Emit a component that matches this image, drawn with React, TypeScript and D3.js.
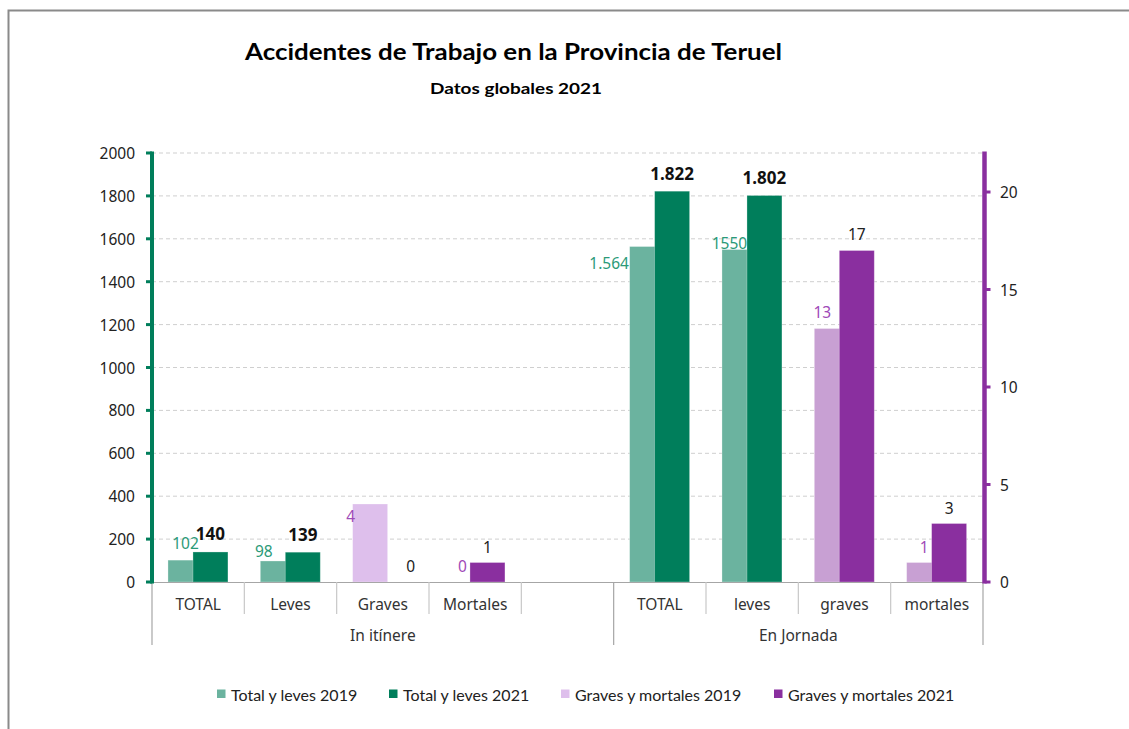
import React from "react";
import * as d3 from "d3";

// ---------- data ----------
const categories = ["TOTAL", "Leves", "Graves", "Mortales", "", "TOTAL", "leves", "graves", "mortales"];
const groups = [
  { name: "In itínere", from: 0, to: 5 },
  { name: "En Jornada", from: 5, to: 9 },
];
const totalLeves2019: (number | null)[] = [102, 98, null, null, null, 1564, 1550, null, null];
const totalLeves2021: (number | null)[] = [140, 139, null, null, null, 1822, 1802, null, null];
const gravesMortales2019: (number | null)[] = [null, null, 4, 0, null, null, null, 13, 1];
const gravesMortales2021: (number | null)[] = [null, null, 0, 1, null, null, null, 17, 3];
const labels2019tl = ["102", "98", "", "", "", "1.564", "1550", "", ""];
const labels2021tl = ["140", "139", "", "", "", "1.822", "1.802", "", ""];
const leftTicks = [0, 200, 400, 600, 800, 1000, 1200, 1400, 1600, 1800, 2000];
const rightTicks = [0, 5, 10, 15, 20];
const legendNames = ["Total y leves 2019", "Total y leves 2021", "Graves y mortales 2019", "Graves y mortales 2021"];
const title = "Accidentes de Trabajo en la Provincia de Teruel";
const subtitle = "Datos globales 2021";

// ---------- layout / style ----------
const W = 1129, H = 729;
const plotL = 152, plotR = 983, plotT = 153, plotB = 582;
const C_TL19 = "#6bb39f";
const C_TL21 = "#007e5b";
const C_GM19a = "#debfec";
const C_GM19b = "#c8a0d3";
const C_GM21 = "#8a2f9f";
const LBL_TEAL = "#2b9a78";
const LBL_PURPLE = "#9f4ab8";
const FONT = "'Noto Sans', sans-serif";
const TFONT = "Lato, 'Noto Sans', sans-serif";

// label offsets [dx, dy] relative to bar top-centre (manually placed labels)
const off19tl: [number, number][] = [[0, -17], [-14, -10], [0, 0], [0, 0], [0, 0], [-38, 16.5], [-10, -6.5], [0, 0], [0, 0]];
const off21tl: [number, number][] = [[0, -18], [0, -18], [0, 0], [0, 0], [0, 0], [0, -18], [0, -17.5], [0, 0], [0, 0]];
const off19gm: [number, number][] = [[0, 0], [0, 0], [-19.5, 12], [0, -16], [0, 0], [0, 0], [0, 0], [-9.5, -16.5], [0, -16]];
const off21gm: [number, number][] = [[0, 0], [0, 0], [15.5, -16], [0, -16], [0, 0], [0, 0], [0, 0], [0, -16.5], [0, -16]];

export default function App() {
  const x = d3.scaleBand<number>().domain(categories.map((_, i) => i)).range([plotL, plotR]).padding(0);
  const bw = x.bandwidth();
  const yL = d3.scaleLinear().domain([0, 2000]).range([plotB, plotT]);
  const yR = d3.scaleLinear().domain([0, 22]).range([plotB, plotT]);
  const barW = bw * 0.379;
  const gap = bw * 0.173;
  const shift = barW * 0.714; // overlap of the two bars
  const x1 = (i: number) => (x(i) as number) + gap;
  const x2 = (i: number) => (x(i) as number) + gap + shift;

  const bars: JSX.Element[] = [];
  const labels: JSX.Element[] = [];

  const addSeries = (
    vals: (number | null)[], y: d3.ScaleLinear<number, number>, xf: (i: number) => number,
    fill: (i: number) => string, key: string, txt: (i: number) => string, offs: [number, number][],
    color: string, weight: string, size: number
  ) => {
    vals.forEach((v, i) => {
      if (v === null) return;
      const top = y(v);
      if (v > 0)
        bars.push(
          <rect key={key + i} x={xf(i)} y={top} width={barW} height={plotB - top} fill={fill(i)} stroke="#ffffff" strokeOpacity={0.35} strokeWidth={0.8} />
        );
      labels.push(
        <text key={key + "l" + i} x={xf(i) + barW / 2 + offs[i][0]} y={top + offs[i][1]} textAnchor="middle" dominantBaseline="central"
          fontFamily={FONT} fontSize={size} fontWeight={weight} fill={color}>{txt(i)}</text>
      );
    });
  };

  addSeries(totalLeves2019, yL, x1, () => C_TL19, "a", (i) => labels2019tl[i], off19tl, LBL_TEAL, "normal", 15.5);
  addSeries(totalLeves2021, yL, x2, () => C_TL21, "b", (i) => labels2021tl[i], off21tl, "#111", "bold", 17);
  addSeries(gravesMortales2019, yR, x1, (i) => (i < 5 ? C_GM19a : C_GM19b), "c", (i) => String(gravesMortales2019[i]), off19gm, LBL_PURPLE, "normal", 15.5);
  addSeries(gravesMortales2021, yR, x2, () => C_GM21, "d", (i) => String(gravesMortales2021[i]), off21gm, "#222", "normal", 15.5);

  const legendColors = [C_TL19, C_TL21, C_GM19a, C_GM21];
  const legendX = [217, 389, 561, 774];

  return (
    <svg width={W} height={H} style={{ position: "absolute", left: 0, top: 0, background: "#fff" }}>
      <rect x={0} y={0} width={W} height={H} fill="#fff" />
      <path d={`M8.5,${H} V10.5 H${W}`} fill="none" stroke="#8a8a8a" strokeWidth={2} />

      <text x={513.5} y={51} textAnchor="middle" dominantBaseline="central" fontFamily={TFONT} fontSize={22} fontWeight="bold" fill="#000"
        textLength={537} lengthAdjust="spacingAndGlyphs">{title}</text>
      <text x={516} y={87} textAnchor="middle" dominantBaseline="central" fontFamily={TFONT} fontSize={16} fontWeight="bold" fill="#000"
        textLength={172} lengthAdjust="spacingAndGlyphs">{subtitle}</text>

      {/* gridlines */}
      {leftTicks.filter((t) => t > 0).map((t) => (
        <line key={"g" + t} x1={plotL} x2={plotR} y1={yL(t)} y2={yL(t)} stroke="#cfcfcf" strokeWidth={1} strokeDasharray="4 3" />
      ))}

      {bars}

      {/* x axis */}
      <line x1={plotL} x2={plotR} y1={plotB + 0.5} y2={plotB + 0.5} stroke="#a6a6a6" strokeWidth={1.2} />
      {categories.map((_, i) => {
        const xx = x(i) as number;
        const isGroupEdge = groups.some((g) => g.from === i);
        return (
          <line key={"d" + i} x1={xx} x2={xx} y1={plotB} y2={isGroupEdge ? 645 : 614} stroke={isGroupEdge ? "#a6a6a6" : "#c8c8c8"} strokeWidth={1.2} />
        );
      })}
      <line x1={plotR} x2={plotR} y1={plotB} y2={645} stroke="#a6a6a6" strokeWidth={1.2} />
      {categories.map((c, i) => (
        <text key={"c" + i} x={(x(i) as number) + bw / 2} y={604} textAnchor="middle" dominantBaseline="central" fontFamily={FONT} fontSize={15.5} fill="#333">{c}</text>
      ))}
      {groups.map((g) => (
        <text key={g.name} x={((x(g.from) as number) + (g.to < categories.length ? (x(g.to) as number) : plotR)) / 2} y={635} textAnchor="middle" dominantBaseline="central"
          fontFamily={FONT} fontSize={15.5} fill="#333">{g.name}</text>
      ))}

      {/* left axis */}
      <line x1={plotL} x2={plotL} y1={plotT - 1.5} y2={plotB + 1.5} stroke={C_TL21} strokeWidth={4} />
      {leftTicks.map((t) => (
        <g key={"lt" + t}>
          <rect x={plotL - 6} y={yL(t) - 1.5} width={6} height={3} fill={C_TL21} />
          <text x={135} y={yL(t)} textAnchor="end" dominantBaseline="central" fontFamily={FONT} fontSize={15.5} fill="#222">{t}</text>
        </g>
      ))}

      {/* right axis */}
      <line x1={plotR + 1.5} x2={plotR + 1.5} y1={plotT - 1.5} y2={plotB + 1.5} stroke={C_GM21} strokeWidth={4.5} />
      {rightTicks.map((t) => (
        <g key={"rt" + t}>
          <rect x={plotR + 1.5} y={yR(t) - 1.5} width={6} height={3} fill={C_GM21} />
          <text x={1000} y={yR(t)} textAnchor="start" dominantBaseline="central" fontFamily={FONT} fontSize={15.5} fill="#222">{t}</text>
        </g>
      ))}

      {labels}

      {/* legend */}
      {legendNames.map((n, i) => (
        <g key={"lg" + i}>
          <rect x={legendX[i]} y={689.5} width={8.5} height={8.5} fill={legendColors[i]} />
          <text x={legendX[i] + 14} y={694} dominantBaseline="central" fontFamily={TFONT} fontSize={16} fill="#222">{n}</text>
        </g>
      ))}
    </svg>
  );
}
